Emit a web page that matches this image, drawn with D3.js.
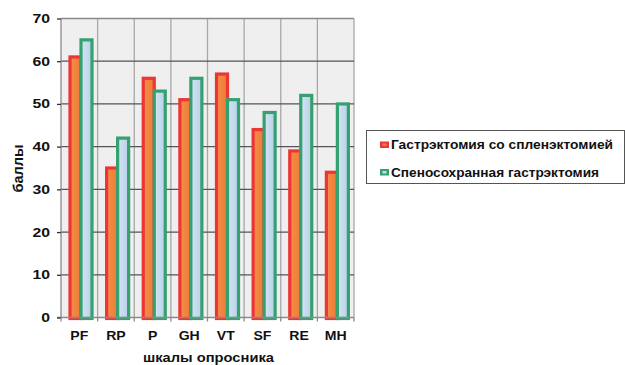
<!DOCTYPE html>
<html>
<head>
<meta charset="utf-8">
<script src="https://cdn.jsdelivr.net/npm/d3@7"></script>
<style>
  html, body { margin: 0; padding: 0; background: #fff; }
  svg { display: block; font-family: "Liberation Sans", Arial, sans-serif; }
</style>
</head>
<body>
<svg id="chart" width="625" height="365"></svg>
<script>
// SF-36 scales, scores for the two patient groups
const categories = ["PF", "RP", "P", "GH", "VT", "SF", "RE", "MH"];
const seriesNames = ["Гастрэктомия со спленэктомией", "Спеносохранная гастрэктомия"];
const splenectomy = [61, 35, 56, 51, 57, 44, 39, 34];
const spleenPreserving = [65, 42, 53, 56, 51, 48, 52, 50];
const yTicks = [0, 10, 20, 30, 40, 50, 60, 70];

const svg = d3.select("#chart");
const plot = { left: 61, right: 354, top: 18.5, bottom: 317.5 };

// widen bold labels a little (wide Arial-style lettering)
function stretch(sel, factor) {
  sel.each(function () {
    const len = this.getComputedTextLength();
    d3.select(this).attr("textLength", len * factor).attr("lengthAdjust", "spacingAndGlyphs");
  });
}

const x = d3.scaleBand().domain(categories).range([plot.left, plot.right]).padding(0);
const inner = d3.scaleBand().domain([0, 1]).range([7.5, 29.5]).padding(0);
const y = d3.scaleLinear().domain([0, 70]).range([plot.bottom, plot.top]);

const defs = svg.append("defs");
const gOr = defs.append("linearGradient").attr("id", "gOrange").attr("x1", 0).attr("x2", 1);
gOr.append("stop").attr("offset", 0).attr("stop-color", "#f39048");
gOr.append("stop").attr("offset", 1).attr("stop-color", "#ee7a36");
const gBl = defs.append("linearGradient").attr("id", "gBlue").attr("x1", 0).attr("x2", 1);
gBl.append("stop").attr("offset", 0).attr("stop-color", "#d6e5f2");
gBl.append("stop").attr("offset", 1).attr("stop-color", "#b6d0ea");

// plot background
svg.append("rect")
  .attr("x", plot.left).attr("y", plot.top)
  .attr("width", plot.right - plot.left).attr("height", plot.bottom - plot.top)
  .attr("fill", "#eeefee");

// vertical grid at category boundaries
const bounds = categories.map(c => x(c)).concat([plot.right]);
svg.append("g").selectAll("line").data(bounds.slice(1)).join("line")
  .attr("x1", d => d).attr("x2", d => d)
  .attr("y1", plot.top).attr("y2", plot.bottom)
  .attr("stroke", "#a8a8a8").attr("stroke-width", 1.3);

// horizontal grid
svg.append("g").selectAll("line").data(yTicks.filter(t => t > 0)).join("line")
  .attr("x1", plot.left).attr("x2", plot.right)
  .attr("y1", d => y(d)).attr("y2", d => y(d))
  .attr("stroke", d => d === 70 ? "#8a8a8a" : "#555").attr("stroke-width", 1.3);

// bars
const rows = categories.map((c, i) => ({ c, v: [splenectomy[i], spleenPreserving[i]] }));
const styles = [
  { stroke: "#ee3535", fill: "url(#gOrange)" },
  { stroke: "#35a070", fill: "url(#gBlue)" }
];
[0, 1].forEach(s => {
  svg.append("g").selectAll("rect").data(rows).join("rect")
    .attr("x", d => x(d.c) + inner(s) + 1.5)
    .attr("width", inner.bandwidth())
    .attr("y", d => y(d.v[s]))
    .attr("height", d => y(0) - y(d.v[s]) + 1)
    .attr("fill", styles[s].fill)
    .attr("stroke", styles[s].stroke)
    .attr("stroke-width", 3.2);
});

// axes lines
svg.append("line").attr("x1", plot.left).attr("x2", plot.left)
  .attr("y1", plot.top).attr("y2", plot.bottom + 1)
  .attr("stroke", "#8a8a8a").attr("stroke-width", 1.3);
svg.append("line").attr("x1", plot.left - 4).attr("x2", plot.right)
  .attr("y1", plot.bottom).attr("y2", plot.bottom)
  .attr("stroke", "#8a8a8a").attr("stroke-width", 1.3);

// y axis
const yAxis = d3.axisLeft(y).tickValues(yTicks).tickSize(4).tickPadding(7);
const gy = svg.append("g").attr("transform", `translate(${plot.left},0)`).call(yAxis);
gy.select(".domain").remove();
gy.selectAll(".tick line").attr("stroke", "#333").attr("stroke-width", 1.3);
gy.selectAll(".tick text")
  .attr("font-family", "Liberation Sans, Arial, sans-serif")
  .attr("font-size", 13.5).attr("font-weight", "bold").attr("fill", "#111")
  .attr("dy", "0.3em")
  .call(stretch, 1.17);

// x axis
const xAxis = d3.axisBottom(x).tickSize(0).tickPadding(13.5);
const gx = svg.append("g").attr("transform", `translate(0,${plot.bottom})`).call(xAxis);
gx.select(".domain").remove();
gx.selectAll(".tick text")
  .attr("font-family", "Liberation Sans, Arial, sans-serif")
  .attr("font-size", 13).attr("font-weight", "bold").attr("fill", "#111")
  .call(stretch, 1.08);
svg.append("g").selectAll("line").data(bounds).join("line")
  .attr("x1", d => d).attr("x2", d => d)
  .attr("y1", plot.bottom).attr("y2", plot.bottom + 4)
  .attr("stroke", "#8a8a8a").attr("stroke-width", 1.3);

// axis titles
svg.append("text").attr("x", 208.5).attr("y", 361.5)
  .attr("text-anchor", "middle").attr("font-size", 13.5).attr("font-weight", "bold")
  .attr("fill", "#111").text("шкалы опросника")
  .attr("textLength", 131).attr("lengthAdjust", "spacingAndGlyphs");
svg.append("text").attr("transform", "translate(22.5,168.5) rotate(-90)")
  .attr("text-anchor", "middle").attr("font-size", 14).attr("font-weight", "bold")
  .attr("fill", "#111").text("баллы")
  .attr("textLength", 48).attr("lengthAdjust", "spacingAndGlyphs");

// legend
const lg = svg.append("g");
lg.append("rect").attr("x", 366.5).attr("y", 130.5).attr("width", 258).attr("height", 53)
  .attr("fill", "#fff").attr("stroke", "#555").attr("stroke-width", 1);
const legendColors = [{ stroke: "#ee3535", fill: "#f08040" }, { stroke: "#35a070", fill: "#c8dcee" }];
const legendWidths = [222, 208];
seriesNames.forEach((name, i) => {
  const base = 149 + i * 27.5;
  lg.append("rect").attr("x", 380).attr("y", base - 7.5).attr("width", 9).attr("height", 6.5)
    .attr("fill", legendColors[i].stroke);
  lg.append("rect").attr("x", 382.5).attr("y", base - 5.5).attr("width", 4).attr("height", 2.5)
    .attr("fill", legendColors[i].fill);
  lg.append("text").attr("x", 391).attr("y", base)
    .attr("font-size", 12.5).attr("font-weight", "bold").attr("fill", "#111").text(name)
    .attr("textLength", legendWidths[i]).attr("lengthAdjust", "spacingAndGlyphs");
});
</script>
</body>
</html>
